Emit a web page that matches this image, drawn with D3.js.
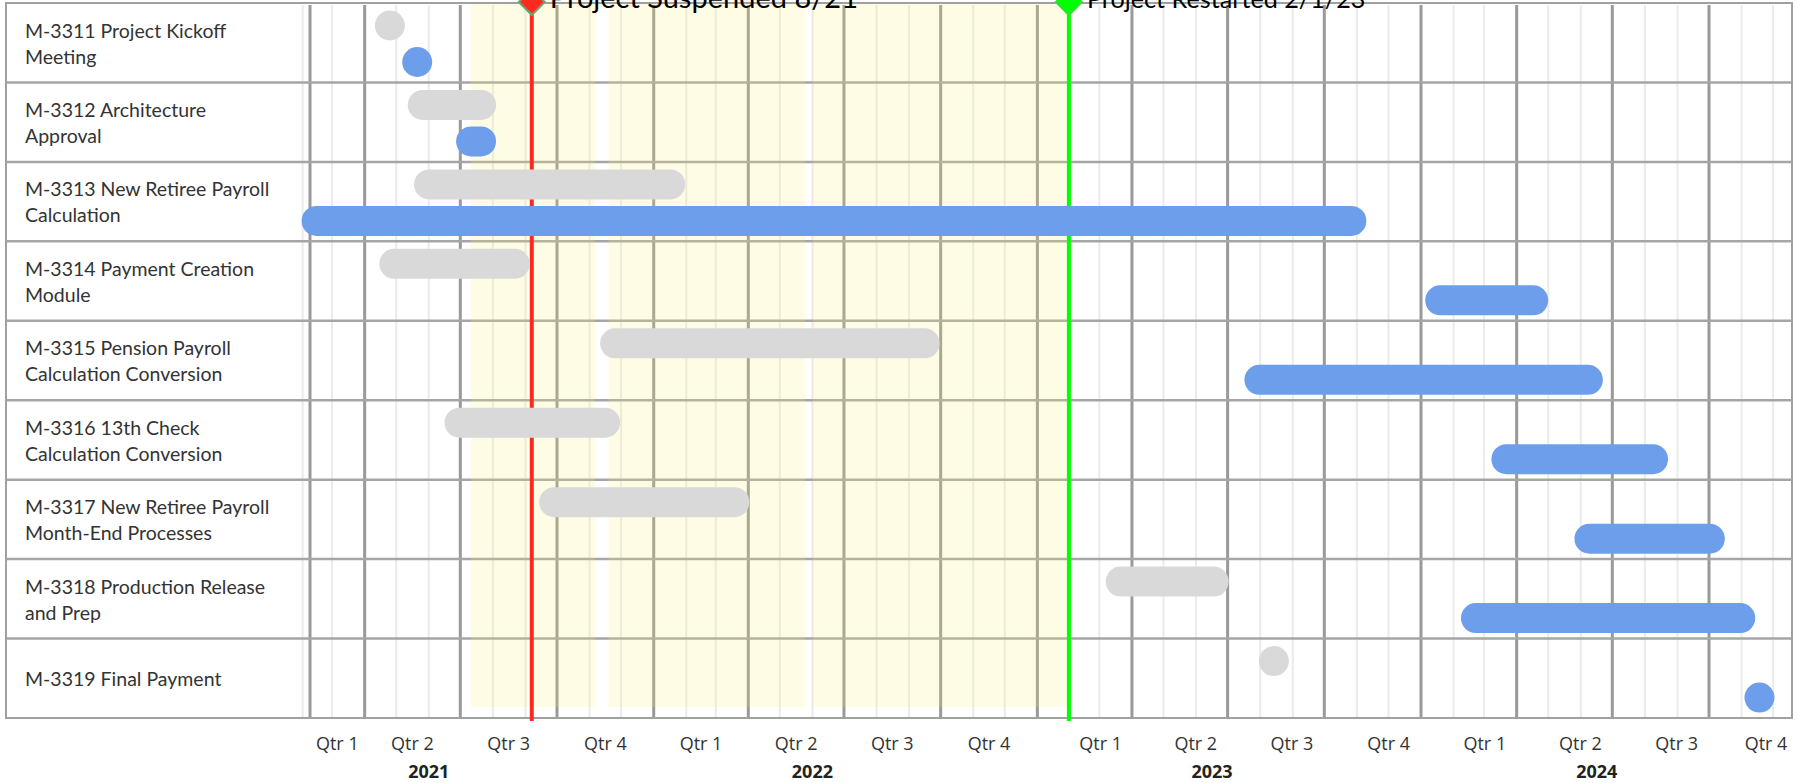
<!DOCTYPE html>
<html>
<head>
<meta charset="utf-8">
<script src="https://d3js.org/d3.v7.min.js"></script>
<style>
  body { margin: 0; background: #fff; }
  svg { display: block; }
  .task-label { font-family: Lato, "Open Sans", sans-serif; font-size: 19.5px; fill: #333; }
  .qtr-label { font-family: "Open Sans", sans-serif; font-size: 18px; fill: #333; text-anchor: middle; }
  .year-label { font-family: "Open Sans", sans-serif; font-size: 18px; font-weight: bold; fill: #222; text-anchor: middle; }
  .marker-label { font-family: Lato, "Open Sans", sans-serif; fill: #000; }
</style>
</head>
<body>
<svg width="1798" height="783"></svg>
<script>
// tasks, one row each
var taskNames = [
  ["M-3311 Project Kickoff", "Meeting"],
  ["M-3312 Architecture", "Approval"],
  ["M-3313 New Retiree Payroll", "Calculation"],
  ["M-3314 Payment Creation", "Module"],
  ["M-3315 Pension Payroll", "Calculation Conversion"],
  ["M-3316 13th Check", "Calculation Conversion"],
  ["M-3317 New Retiree Payroll", "Month-End Processes"],
  ["M-3318 Production Release", "and Prep"],
  ["M-3319 Final Payment"]
];
// baseline (gray) and actual (blue) schedules
var plannedStart = ["2021-04-25", "2021-05-12", "2021-05-18", "2021-04-15", "2021-11-11", "2021-06-16", "2021-09-14", "2023-03-07", "2023-08-14"];
var plannedEnd   = ["2021-04-25", "2021-08-04", "2022-01-31", "2021-09-05", "2022-09-30", "2021-11-30", "2022-04-02", "2023-07-02", "2023-08-14"];
var actualStart  = ["2021-05-21", "2021-06-27", "2021-01-31", "2024-01-05", "2023-07-17", "2024-03-08", "2024-05-26", "2024-02-08", "2024-11-18"];
var actualEnd    = ["2021-05-21", "2021-08-04", "2023-11-10", "2024-05-01", "2024-06-22", "2024-08-23", "2024-10-16", "2024-11-14", "2024-11-18"];

// periods when the project was on hold (yellow shading)
var holdStart = ["2021-07-11", "2021-11-19", "2022-06-01"];
var holdEnd   = ["2021-11-06", "2022-05-25", "2023-01-31"];

// vertical markers
var markerDates  = ["2021-09-07", "2023-01-31"];
var markerLabels = ["Project Suspended 8/21", "Project Restarted 2/1/23"];

var timeStart = "2021-02-08", timeEnd = "2024-12-18";

var parse = d3.timeParse("%Y-%m-%d");

var svg = d3.select("svg"),
    width = +svg.attr("width"),
    height = +svg.attr("height");

var tableLeft = 6, tableRight = 1792, tableTop = 3, tableBottom = 718;

var x = d3.scaleTime()
    .domain([parse(timeStart), parse(timeEnd)])
    .range([310, 1791]);

var y = d3.scaleBand()
    .domain(d3.range(taskNames.length))
    .range([tableTop, tableBottom]);

var tasks = taskNames.map(function(name, i) {
  return {
    i: i,
    name: name,
    ps: parse(plannedStart[i]), pe: parse(plannedEnd[i]),
    as: parse(actualStart[i]), ae: parse(actualEnd[i])
  };
});

// month grid lines (light)
var months = d3.timeMonth.range(new Date(2021, 1, 1), x.domain()[1])
    .filter(function(d) { return d.getMonth() % 3 != 0; });
svg.append("g").selectAll("line")
    .data(months)
    .enter().append("line")
    .attr("x1", function(d) { return x(d); })
    .attr("x2", function(d) { return x(d); })
    .attr("y1", tableTop + 2)
    .attr("y2", tableBottom)
    .style("stroke", "#ebebeb")
    .style("stroke-width", 2);

// quarter grid lines (dark)
var quarters = d3.timeMonth.every(3).range(new Date(2021, 0, 1), x.domain()[1]);
svg.append("g").selectAll("line")
    .data(quarters.filter(function(d) { return d >= x.domain()[0]; }).concat([x.domain()[0]]))
    .enter().append("line")
    .attr("x1", function(d) { return x(d); })
    .attr("x2", function(d) { return x(d); })
    .attr("y1", tableTop + 2)
    .attr("y2", tableBottom)
    .style("stroke", "#999")
    .style("stroke-width", 3);

// row separators
svg.append("g").selectAll("line")
    .data(d3.range(1, taskNames.length))
    .enter().append("line")
    .attr("x1", tableLeft)
    .attr("x2", tableRight)
    .attr("y1", function(d) { return y(d); })
    .attr("y2", function(d) { return y(d); })
    .style("stroke", "#a6a6a6")
    .style("stroke-width", 2.5);

// on-hold shading, drawn over the grid so the lines turn olive
svg.append("g").selectAll("rect")
    .data(holdStart.map(function(s, i) { return [parse(s), parse(holdEnd[i])]; }))
    .enter().append("rect")
    .attr("x", function(d) { return x(d[0]); })
    .attr("width", function(d) { return x(d[1]) - x(d[0]); })
    .attr("y", tableTop + 1)
    .attr("height", 703)
    .style("fill", "#f9ee71")
    .style("fill-opacity", 0.18);

// outer table border
svg.append("rect")
    .attr("x", tableLeft)
    .attr("y", tableTop)
    .attr("width", tableRight - tableLeft)
    .attr("height", tableBottom - tableTop)
    .style("fill", "none")
    .style("stroke", "#a0a0a0")
    .style("stroke-width", 2);

// marker lines
var markerColor = ["#ff2a1f", "#00ff00"];
var markers = markerDates.map(function(d, i) { return { date: parse(d), label: markerLabels[i], i: i }; });

svg.append("g").selectAll("line")
    .data(markers)
    .enter().append("line")
    .attr("x1", function(d) { return x(d.date); })
    .attr("x2", function(d) { return x(d.date); })
    .attr("y1", 0)
    .attr("y2", tableBottom + 3)
    .style("stroke", function(d) { return markerColor[d.i]; })
    .style("stroke-width", 4);

// bars
var barH = 30;
var plannedOffset = 22.5, actualOffset = 59;

function drawBars(cls, startKey, endKey, offset, color) {
  var g = svg.append("g").attr("class", cls);
  g.selectAll("rect")
      .data(tasks.filter(function(d) { return +d[startKey] != +d[endKey]; }))
      .enter().append("rect")
      .attr("x", function(d) { return x(d[startKey]); })
      .attr("width", function(d) { return x(d[endKey]) - x(d[startKey]); })
      .attr("y", function(d) { return y(d.i) + offset - barH / 2; })
      .attr("height", barH)
      .attr("rx", barH / 2)
      .style("fill", color);
  // milestones are zero-length tasks, shown as dots
  g.selectAll("circle")
      .data(tasks.filter(function(d) { return +d[startKey] == +d[endKey]; }))
      .enter().append("circle")
      .attr("cx", function(d) { return x(d[startKey]); })
      .attr("cy", function(d) { return y(d.i) + offset; })
      .attr("r", barH / 2)
      .style("fill", color);
}
drawBars("planned", "ps", "pe", plannedOffset, "#d9d9d9");
drawBars("actual", "as", "ae", actualOffset, "#6d9eeb");

// marker diamonds + labels
var markerSize = [29, 25.2];
var mk = svg.append("g").selectAll("g")
    .data(markers)
    .enter().append("g")
    .attr("transform", function(d) { return "translate(" + x(d.date) + ",2)"; });
mk.append("path")
    .attr("d", "M0,-13L13,0L0,13L-13,0Z")
    .style("fill", function(d) { return markerColor[d.i]; })
    .style("stroke", function(d) { return d.i == 0 ? "#6aa56f" : "#33dd33"; })
    .style("stroke-width", 2);
mk.append("text")
    .attr("class", "marker-label")
    .attr("x", 18)
    .attr("y", 6)
    .style("font-size", function(d) { return markerSize[d.i] + "px"; })
    .text(function(d) { return d.label; });

// task labels
var labels = svg.append("g").selectAll("text")
    .data(tasks)
    .enter().append("text")
    .attr("class", "task-label");
labels.selectAll("tspan")
    .data(function(d) {
      return d.name.map(function(line, k) {
        return { line: line, top: y(d.i), k: k, n: d.name.length };
      });
    })
    .enter().append("tspan")
    .attr("x", 25)
    .attr("y", function(d) {
      if (d.n == 1) return d.top + 47;
      return d.top + 34.5 + d.k * 26;
    })
    .text(function(d) { return d.line; });

// time axis: quarters and years
// the reference's axis labels for 2023-2024 sit a little right of their quarters
function labelShift(d) { return d.getFullYear() >= 2023 ? 16 : 0; }

var axisG = svg.append("g");
axisG.selectAll(".qtr-label")
    .data(quarters)
    .enter().append("text")
    .attr("class", "qtr-label")
    .attr("x", function(d) {
      var a = d3.max([d, x.domain()[0]]),
          b = d3.min([d3.timeMonth.offset(d, 3), x.domain()[1]]);
      return (x(a) + x(b)) / 2 + labelShift(d);
    })
    .attr("y", 750)
    .text(function(d) { return "Qtr " + (Math.floor(d.getMonth() / 3) + 1); });

axisG.selectAll(".year-label")
    .data(d3.timeYear.range(new Date(2021, 0, 1), x.domain()[1]))
    .enter().append("text")
    .attr("class", "year-label")
    .attr("x", function(d) { return x(new Date(d.getFullYear(), 5, 1)) + labelShift(d); })
    .attr("y", 778)
    .text(function(d) { return d.getFullYear(); });
</script>
</body>
</html>
